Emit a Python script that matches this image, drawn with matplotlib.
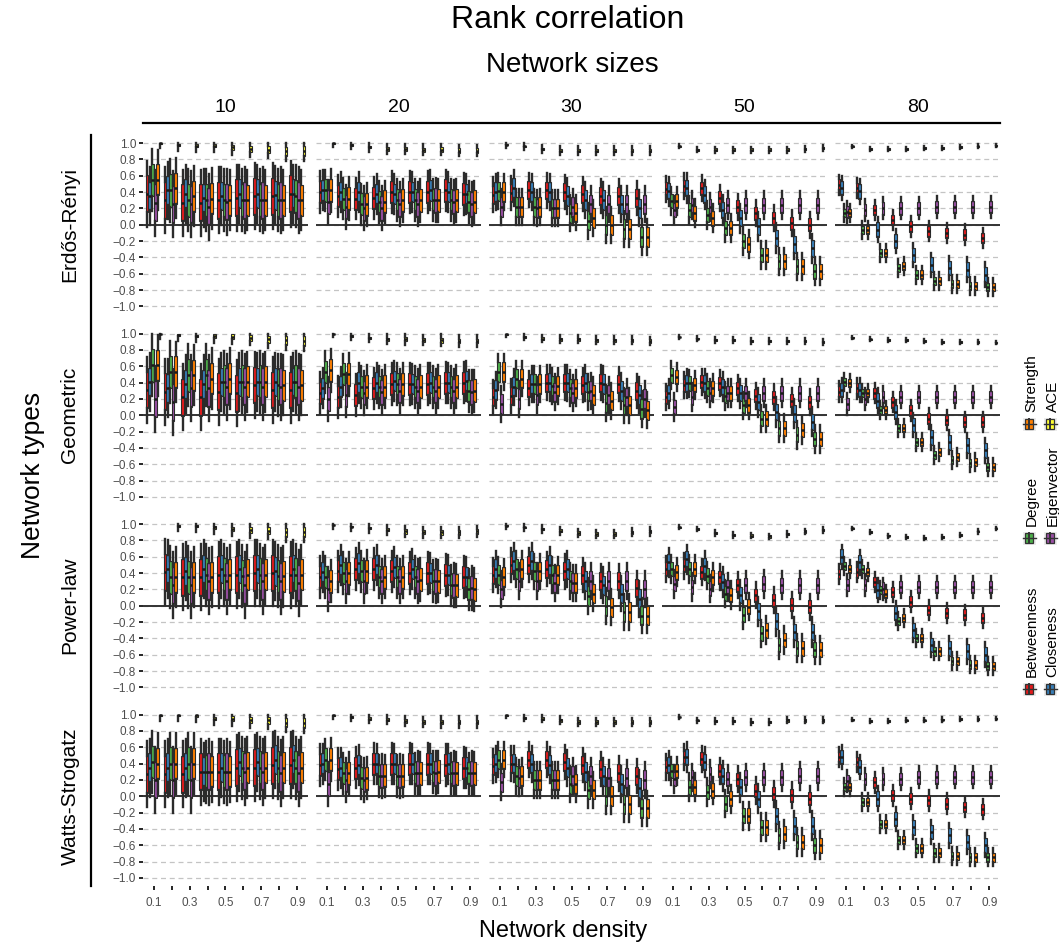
import matplotlib.pyplot as plt
from matplotlib.lines import Line2D
from matplotlib.patches import Rectangle

plt.rcParams['font.family'] = ['Liberation Sans', 'DejaVu Sans']

# categories
sizes = [10, 20, 30, 50, 80]
network_types = ['Erdős-Rényi', 'Geometric', 'Power-law', 'Watts-Strogatz']
measures = ['Betweenness', 'Closeness', 'Degree', 'Eigenvector', 'Strength', 'ACE']
colors = ['#E41A1C', '#377EB8', '#4DAF4A', '#984EA3', '#FF7F00', '#FFFF33']
densities = ['0.1', '0.2', '0.3', '0.4', '0.5', '0.6', '0.7', '0.8', '0.9']
density_labels = ['0.1', '', '0.3', '', '0.5', '', '0.7', '', '0.9']

# medians: rows = measures, columns = densities 0.1..0.9
er_10 = [[0.38, 0.30, 0.27, 0.27, 0.30, 0.33, 0.35, 0.35, 0.38],
         [0.35, 0.42, 0.38, 0.33, 0.35, 0.38, 0.38, 0.36, 0.38],
         [0.55, 0.42, 0.30, 0.30, 0.30, 0.30, 0.30, 0.30, 0.35],
         [0.27, 0.25, 0.25, 0.22, 0.28, 0.30, 0.30, 0.30, 0.30],
         [0.55, 0.45, 0.35, 0.32, 0.30, 0.30, 0.30, 0.30, 0.30],
         [1.00, 0.98, 0.97, 0.97, 0.95, 0.93, 0.92, 0.90, 0.90]]
er_20 = [[0.40, 0.35, 0.32, 0.33, 0.40, 0.40, 0.40, 0.42, 0.38],
         [0.42, 0.40, 0.40, 0.38, 0.38, 0.40, 0.42, 0.40, 0.38],
         [0.42, 0.32, 0.25, 0.28, 0.30, 0.30, 0.30, 0.30, 0.28],
         [0.28, 0.22, 0.20, 0.20, 0.25, 0.25, 0.30, 0.28, 0.25],
         [0.42, 0.32, 0.25, 0.28, 0.30, 0.30, 0.30, 0.30, 0.28],
         [1.00, 0.98, 0.95, 0.93, 0.93, 0.92, 0.92, 0.91, 0.91]]
er_30 = [[0.37, 0.39, 0.43, 0.42, 0.40, 0.38, 0.35, 0.35, 0.33],
         [0.40, 0.45, 0.40, 0.40, 0.35, 0.30, 0.30, 0.25, 0.20],
         [0.41, 0.22, 0.22, 0.20, 0.14, 0.05, 0.00, -0.05, -0.15],
         [0.22, 0.22, 0.20, 0.20, 0.22, 0.25, 0.25, 0.25, 0.25],
         [0.40, 0.22, 0.22, 0.20, 0.15, 0.08, 0.00, -0.05, -0.15],
         [0.98, 0.96, 0.93, 0.91, 0.91, 0.91, 0.91, 0.91, 0.91]]
er_50 = [[0.44, 0.47, 0.45, 0.33, 0.22, 0.14, 0.08, 0.02, 0.00],
         [0.41, 0.45, 0.37, 0.18, 0.08, -0.02, -0.16, -0.24, -0.29],
         [0.29, 0.18, 0.12, -0.04, -0.20, -0.37, -0.45, -0.51, -0.57],
         [0.18, 0.24, 0.22, 0.24, 0.24, 0.24, 0.24, 0.24, 0.24],
         [0.29, 0.14, 0.08, -0.04, -0.24, -0.37, -0.45, -0.51, -0.57],
         [0.96, 0.92, 0.92, 0.92, 0.92, 0.92, 0.92, 0.93, 0.94]]
er_80 = [[0.49, 0.45, 0.18, 0.06, -0.02, -0.08, -0.10, -0.12, -0.16],
         [0.45, 0.41, -0.06, -0.20, -0.37, -0.49, -0.53, -0.55, -0.61],
         [0.14, -0.06, -0.35, -0.53, -0.61, -0.69, -0.73, -0.75, -0.76],
         [0.16, 0.18, 0.20, 0.20, 0.20, 0.22, 0.22, 0.22, 0.22],
         [0.14, -0.06, -0.35, -0.51, -0.61, -0.69, -0.73, -0.75, -0.76],
         [0.96, 0.93, 0.93, 0.93, 0.94, 0.94, 0.95, 0.96, 0.97]]

geo_10 = [[0.31, 0.29, 0.22, 0.22, 0.29, 0.27, 0.37, 0.31, 0.31],
          [0.41, 0.33, 0.38, 0.38, 0.41, 0.41, 0.41, 0.41, 0.41],
          [0.61, 0.53, 0.49, 0.49, 0.41, 0.41, 0.41, 0.37, 0.41],
          [0.20, 0.16, 0.33, 0.33, 0.35, 0.35, 0.35, 0.35, 0.35],
          [0.61, 0.53, 0.49, 0.45, 0.45, 0.41, 0.41, 0.37, 0.37],
          [1.00, 0.98, 0.97, 0.97, 0.96, 0.95, 0.93, 0.92, 0.91]]
geo_20 = [[0.27, 0.22, 0.25, 0.33, 0.38, 0.38, 0.38, 0.40, 0.40],
          [0.33, 0.35, 0.40, 0.40, 0.42, 0.38, 0.40, 0.40, 0.42],
          [0.53, 0.50, 0.35, 0.35, 0.38, 0.35, 0.35, 0.35, 0.30],
          [0.20, 0.25, 0.27, 0.28, 0.30, 0.30, 0.30, 0.30, 0.28],
          [0.55, 0.50, 0.35, 0.35, 0.38, 0.35, 0.35, 0.35, 0.30],
          [1.00, 0.97, 0.95, 0.93, 0.93, 0.92, 0.92, 0.91, 0.91]]
geo_30 = [[0.22, 0.24, 0.33, 0.40, 0.40, 0.37, 0.40, 0.38, 0.30],
          [0.31, 0.35, 0.38, 0.40, 0.40, 0.40, 0.38, 0.30, 0.25],
          [0.53, 0.45, 0.38, 0.36, 0.33, 0.29, 0.15, 0.12, 0.08],
          [0.14, 0.20, 0.25, 0.28, 0.27, 0.30, 0.25, 0.22, 0.20],
          [0.53, 0.45, 0.38, 0.36, 0.33, 0.25, 0.18, 0.12, 0.06],
          [0.99, 0.96, 0.94, 0.93, 0.93, 0.92, 0.92, 0.92, 0.91]]
geo_50 = [[0.22, 0.37, 0.41, 0.39, 0.33, 0.24, 0.22, 0.18, 0.16],
          [0.27, 0.39, 0.39, 0.35, 0.27, 0.16, 0.04, 0.02, -0.08],
          [0.49, 0.39, 0.33, 0.24, 0.12, -0.04, -0.16, -0.24, -0.29],
          [0.10, 0.22, 0.27, 0.27, 0.27, 0.27, 0.27, 0.27, 0.27],
          [0.47, 0.37, 0.33, 0.27, 0.12, -0.04, -0.16, -0.18, -0.29],
          [0.96, 0.94, 0.92, 0.92, 0.91, 0.91, 0.91, 0.91, 0.90]]
geo_80 = [[0.29, 0.33, 0.27, 0.16, 0.06, -0.04, -0.06, -0.08, -0.08],
          [0.31, 0.31, 0.18, 0.04, -0.12, -0.27, -0.33, -0.37, -0.43],
          [0.41, 0.27, 0.06, -0.16, -0.33, -0.49, -0.55, -0.59, -0.63],
          [0.14, 0.20, 0.22, 0.22, 0.22, 0.22, 0.22, 0.22, 0.22],
          [0.40, 0.27, 0.06, -0.16, -0.33, -0.45, -0.51, -0.57, -0.63],
          [0.95, 0.93, 0.92, 0.92, 0.91, 0.90, 0.90, 0.90, 0.89]]

pl_10 = [[None, 0.41, 0.35, 0.35, 0.38, 0.38, 0.40, 0.40, 0.38],
         [None, 0.45, 0.42, 0.45, 0.45, 0.45, 0.45, 0.42, 0.45],
         [None, 0.35, 0.35, 0.38, 0.38, 0.36, 0.38, 0.36, 0.38],
         [None, 0.25, 0.25, 0.30, 0.30, 0.25, 0.30, 0.30, 0.28],
         [None, 0.35, 0.35, 0.35, 0.38, 0.38, 0.38, 0.36, 0.38],
         [None, 0.98, 0.98, 0.96, 0.94, 0.93, 0.92, 0.90, 0.90]]
pl_20 = [[0.35, 0.42, 0.45, 0.45, 0.42, 0.40, 0.40, 0.38, 0.35],
         [0.41, 0.50, 0.52, 0.50, 0.47, 0.45, 0.40, 0.38, 0.35],
         [0.35, 0.40, 0.42, 0.35, 0.35, 0.35, 0.30, 0.25, 0.20],
         [0.20, 0.30, 0.30, 0.30, 0.30, 0.30, 0.30, 0.25, 0.22],
         [0.30, 0.40, 0.42, 0.35, 0.35, 0.32, 0.30, 0.25, 0.20],
         [0.99, 0.97, 0.95, 0.93, 0.91, 0.90, 0.90, 0.90, 0.91]]
pl_30 = [[0.38, 0.50, 0.50, 0.45, 0.42, 0.38, 0.30, 0.30, 0.22],
         [0.45, 0.55, 0.55, 0.50, 0.45, 0.30, 0.25, 0.15, 0.08],
         [0.38, 0.45, 0.42, 0.38, 0.30, 0.12, 0.00, -0.08, -0.12],
         [0.20, 0.30, 0.30, 0.28, 0.28, 0.30, 0.30, 0.30, 0.20],
         [0.35, 0.45, 0.42, 0.38, 0.28, 0.15, -0.02, -0.08, -0.12],
         [0.98, 0.96, 0.94, 0.92, 0.89, 0.88, 0.88, 0.90, 0.91]]
pl_50 = [[0.45, 0.49, 0.41, 0.35, 0.25, 0.13, 0.07, 0.01, -0.01],
         [0.53, 0.57, 0.49, 0.29, 0.13, -0.07, -0.19, -0.32, -0.32],
         [0.45, 0.45, 0.37, 0.15, -0.11, -0.34, -0.48, -0.52, -0.54],
         [0.27, 0.23, 0.21, 0.23, 0.25, 0.27, 0.25, 0.25, 0.25],
         [0.41, 0.45, 0.35, 0.13, -0.01, -0.30, -0.42, -0.52, -0.54],
         [0.96, 0.94, 0.89, 0.87, 0.86, 0.85, 0.88, 0.91, 0.93]]
pl_80 = [[0.39, 0.41, 0.29, 0.17, 0.05, -0.05, -0.09, -0.11, -0.15],
         [0.60, 0.53, 0.19, -0.09, -0.30, -0.48, -0.52, -0.56, -0.60],
         [0.49, 0.45, 0.19, -0.19, -0.40, -0.56, -0.68, -0.72, -0.74],
         [0.25, 0.25, 0.21, 0.23, 0.23, 0.23, 0.23, 0.23, 0.23],
         [0.45, 0.41, 0.15, -0.15, -0.40, -0.56, -0.68, -0.72, -0.74],
         [0.95, 0.90, 0.86, 0.84, 0.83, 0.84, 0.87, 0.91, 0.95]]

ws_10 = [[0.27, 0.27, 0.27, 0.30, 0.30, 0.35, 0.35, 0.38, 0.38],
         [0.35, 0.35, 0.35, 0.30, 0.35, 0.42, 0.42, 0.45, 0.45],
         [0.42, 0.40, 0.40, 0.30, 0.30, 0.35, 0.35, 0.35, 0.35],
         [0.20, 0.20, 0.20, 0.30, 0.30, 0.30, 0.30, 0.28, 0.28],
         [0.40, 0.40, 0.40, 0.30, 0.30, 0.35, 0.35, 0.35, 0.35],
         [0.99, 0.99, 0.99, 0.95, 0.95, 0.93, 0.93, 0.90, 0.90]]
ws_20 = [[0.38, 0.33, 0.35, 0.40, 0.40, 0.40, 0.40, 0.38, 0.35],
         [0.40, 0.35, 0.38, 0.40, 0.40, 0.40, 0.40, 0.40, 0.35],
         [0.45, 0.28, 0.22, 0.25, 0.25, 0.28, 0.30, 0.28, 0.28],
         [0.15, 0.20, 0.20, 0.25, 0.25, 0.28, 0.28, 0.28, 0.28],
         [0.45, 0.28, 0.22, 0.25, 0.25, 0.28, 0.30, 0.28, 0.28],
         [0.99, 0.97, 0.95, 0.94, 0.92, 0.91, 0.91, 0.91, 0.91]]
ws_30 = [[0.37, 0.40, 0.45, 0.45, 0.42, 0.38, 0.33, 0.28, 0.25],
         [0.40, 0.40, 0.40, 0.38, 0.35, 0.30, 0.25, 0.15, 0.10],
         [0.45, 0.25, 0.20, 0.20, 0.15, 0.08, 0.00, -0.10, -0.15],
         [0.17, 0.22, 0.20, 0.20, 0.25, 0.25, 0.22, 0.22, 0.20],
         [0.45, 0.25, 0.20, 0.20, 0.15, 0.08, 0.00, -0.10, -0.15],
         [0.99, 0.96, 0.95, 0.93, 0.91, 0.91, 0.91, 0.91, 0.91]]
ws_50 = [[0.36, 0.48, 0.46, 0.31, 0.21, 0.07, 0.03, 0.01, -0.03],
         [0.38, 0.48, 0.42, 0.25, 0.11, -0.03, -0.24, -0.36, -0.36],
         [0.31, 0.11, 0.05, -0.09, -0.24, -0.38, -0.48, -0.56, -0.60],
         [0.21, 0.23, 0.27, 0.21, 0.23, 0.23, 0.23, 0.25, 0.25],
         [0.31, 0.11, 0.07, -0.03, -0.24, -0.38, -0.46, -0.56, -0.60],
         [0.97, 0.93, 0.92, 0.92, 0.91, 0.91, 0.93, 0.93, 0.93]]
ws_80 = [[0.48, 0.42, 0.17, 0.01, -0.03, -0.05, -0.09, -0.13, -0.16],
         [0.48, 0.36, -0.03, -0.28, -0.38, -0.44, -0.48, -0.56, -0.60],
         [0.11, -0.07, -0.34, -0.54, -0.64, -0.69, -0.73, -0.75, -0.75],
         [0.19, 0.21, 0.21, 0.21, 0.23, 0.23, 0.23, 0.23, 0.23],
         [0.11, -0.07, -0.34, -0.54, -0.64, -0.69, -0.73, -0.75, -0.75],
         [0.94, 0.92, 0.92, 0.93, 0.93, 0.94, 0.95, 0.95, 0.95]]

medians = {
    'Erdős-Rényi': [er_10, er_20, er_30, er_50, er_80],
    'Geometric': [geo_10, geo_20, geo_30, geo_50, geo_80],
    'Power-law': [pl_10, pl_20, pl_30, pl_50, pl_80],
    'Watts-Strogatz': [ws_10, ws_20, ws_30, ws_50, ws_80],
}

# typical interquartile heights and whisker lengths (Betw, Clos, Deg, Eig, Str)
box_height = {10: [0.45, 0.35, 0.40, 0.45, 0.38],
              20: [0.27, 0.25, 0.27, 0.30, 0.28],
              30: [0.22, 0.24, 0.24, 0.24, 0.24],
              50: [0.16, 0.20, 0.18, 0.18, 0.18],
              80: [0.13, 0.18, 0.10, 0.15, 0.10]}
whisker_len = {10: 0.18, 20: 0.12, 30: 0.10, 50: 0.08, 80: 0.06}
ace_height = {10: [0.01, 0.02, 0.03, 0.04, 0.06, 0.07, 0.09, 0.11, 0.12],
              20: [0.01, 0.02, 0.03, 0.04, 0.05, 0.05, 0.06, 0.06, 0.06],
              30: [0.01, 0.02, 0.03, 0.04, 0.04, 0.04, 0.04, 0.04, 0.04],
              50: [0.01, 0.02, 0.03, 0.03, 0.03, 0.03, 0.03, 0.03, 0.03],
              80: [0.01, 0.02, 0.02, 0.02, 0.02, 0.02, 0.02, 0.02, 0.01]}
ace_whisker = {10: 0.06, 20: 0.04, 30: 0.03, 50: 0.02, 80: 0.015}

W, H = 1059, 944


def fx(px):
    return px / W


def fy(py):
    return 1 - py / H


def box_stats(med, h, w):
    q1 = med - h / 2
    q3 = min(med + h / 2, 1.0)
    return dict(med=med, q1=q1, q3=q3, whislo=max(q1 - w, -1.0), whishi=min(q3 + w, 1.0))


fig = plt.figure(figsize=(W / 100, H / 100), dpi=100)
axes = fig.subplots(4, 5, gridspec_kw=dict(left=fx(143), right=fx(1000), top=fy(135), bottom=fy(886),
                                           wspace=0.0485, hspace=0.061))

yticks = [-1.0, -0.8, -0.6, -0.4, -0.2, 0.0, 0.2, 0.4, 0.6, 0.8, 1.0]
ylabels = [f'{v:.1f}'.replace('-', '\u2212') for v in yticks]

for r, ntype in enumerate(network_types):
    for c, size in enumerate(sizes):
        ax = axes[r, c]
        panel = medians[ntype][c]
        for k, meas in enumerate(measures):
            stats, pos = [], []
            for i, m in enumerate(panel[k]):
                if m is None:
                    continue
                if meas == 'ACE':
                    stats.append(box_stats(m, ace_height[size][i], ace_whisker[size]))
                else:
                    stats.append(box_stats(m, box_height[size][k], whisker_len[size]))
                pos.append(i + 1 + (k - 2.5) * 0.15)
            ax.bxp(stats, positions=pos, widths=0.16, patch_artist=True,
                   showfliers=False, showcaps=False, manage_ticks=False,
                   boxprops=dict(facecolor=colors[k], edgecolor='#2b2b2b', linewidth=0.8),
                   whiskerprops=dict(color='#2b2b2b', linewidth=1.7),
                   medianprops=dict(color='#1a1a1a', linewidth=1.8))

        ax.axhline(0, color='#333333', linewidth=1.4, zorder=1.5)
        ax.set_xlim(0.4, 9.6)
        ax.set_ylim(-1.1, 1.1)
        ax.set_yticks(yticks)
        ax.grid(axis='y', color='#c4c4c4', linestyle=(0, (4, 3)), linewidth=0.9, zorder=0)
        ax.set_axisbelow(True)
        for s in ax.spines.values():
            s.set_visible(False)
        ax.set_xticks(range(1, 10))
        if c == 0:
            ax.set_yticklabels(ylabels)
            ax.tick_params(axis='y', length=3, width=1.2, color='black', labelsize=8.5,
                           labelcolor='#4d4d4d', pad=2)
        else:
            ax.tick_params(axis='y', left=False, labelleft=False)
        if r == 3:
            ax.set_xticklabels(density_labels)
            ax.tick_params(axis='x', length=3, width=1.2, color='black', labelsize=8.5,
                           labelcolor='#4d4d4d', pad=5)
        else:
            ax.tick_params(axis='x', bottom=False, labelbottom=False)

# titles and strips
fig.text(fx(568), fy(20), 'Rank correlation', ha='center', va='center', fontsize=23)
fig.text(fx(572), fy(65), 'Network sizes', ha='center', va='center', fontsize=20)
for c, size in enumerate(sizes):
    bb = axes[0, c].get_position()
    fig.text((bb.x0 + bb.x1) / 2, fy(108), str(size), ha='center', va='center', fontsize=14)
fig.add_artist(Line2D([fx(143), fx(1000)], [fy(123), fy(123)], transform=fig.transFigure,
                      color='black', linewidth=1.6))

fig.text(fx(33), fy(475), 'Network types', ha='center', va='center', rotation=90, fontsize=19)
for r, ntype in enumerate(network_types):
    bb = axes[r, 0].get_position()
    fig.text(fx(70), (bb.y0 + bb.y1) / 2, ntype, ha='center', va='center', rotation=90, fontsize=15)
fig.add_artist(Line2D([fx(91), fx(91)], [fy(135), fy(886)], transform=fig.transFigure,
                      color='black', linewidth=1.6))

fig.text(fx(563), fy(931), 'Network density', ha='center', va='center', fontsize=17)

# legend (rotated, two rows)
key_pos = {'Betweenness': (1029, 689), 'Closeness': (1050, 689),
           'Degree': (1029, 538), 'Eigenvector': (1050, 538),
           'Strength': (1029, 424), 'ACE': (1050, 424)}
for k, meas in enumerate(measures):
    cx, cy = key_pos[meas]
    fig.add_artist(Rectangle((fx(cx - 6.5), fy(cy + 6.5)), 13 / W, 13 / H, transform=fig.transFigure,
                             facecolor='#ececec', edgecolor='none'))
    fig.add_artist(Line2D([fx(cx - 6.5), fx(cx + 6.5)], [fy(cy), fy(cy)], transform=fig.transFigure,
                          color='#333333', linewidth=1.0))
    fig.add_artist(Rectangle((fx(cx - 4), fy(cy + 5)), 8 / W, 10 / H, transform=fig.transFigure,
                             facecolor=colors[k], edgecolor='#333333', linewidth=0.9))
    fig.add_artist(Line2D([fx(cx), fx(cx)], [fy(cy + 5), fy(cy - 5)], transform=fig.transFigure,
                          color='#333333', linewidth=1.4))
    fig.text(fx(cx + 2.5), fy(cy - 12), meas, rotation=90, ha='center', va='bottom', fontsize=11)

fig.savefig('out.png', dpi=100)
